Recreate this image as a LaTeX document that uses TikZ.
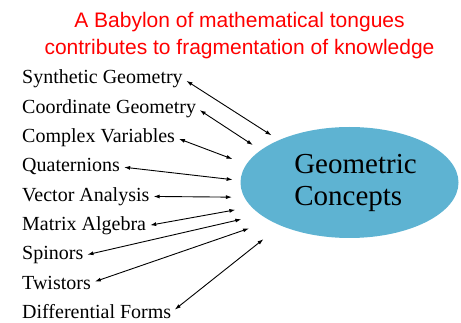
\documentclass[tikz,border=0pt]{standalone}
\usepackage{fontspec}
\setmainfont{Liberation Serif}
\newfontfamily\titlefont{Liberation Sans}
\usepackage{tikz}
\usetikzlibrary{arrows.meta, shapes.geometric}
\definecolor{conceptblue}{RGB}{94,179,210}
\definecolor{titlered}{RGB}{255,0,0}

\begin{document}
\begin{tikzpicture}[
  x=1pt, y=-1pt,
  tongue/.style={anchor=base west, inner sep=1pt,
                 font=\fontsize{20}{23}\selectfont},
  arr/.style={{Latex[length=6pt,width=4pt]}-{Latex[length=6pt,width=4pt]},
              line width=0.9pt, shorten <=3pt}
]
\useasboundingbox (0,0) rectangle (461,323);
\node[align=center, anchor=north, inner sep=0pt, text=titlered,
      font=\titlefont\fontsize{21}{27}\selectfont] (title) at (239.5,12)
  {A Babylon of mathematical tongues\\contributes to fragmentation of knowledge};
\node[ellipse, fill=conceptblue, minimum width=218pt, minimum height=111pt,
      inner sep=0pt, outer sep=0pt, align=left,
      font=\fontsize{29}{32}\selectfont] (gc) at (349.5,182.5)
  {\hspace*{12pt}Geometric\\\hspace*{12pt}Concepts};
\node[tongue] (syn) at (21,84) {Synthetic Geometry};
\node[tongue] (coo) at (21,113.3) {Coordinate Geometry};
\node[tongue] (cplx) at (21,142.6) {Complex Variables};
\node[tongue] (quat) at (21,171.9) {Quaternions};
\node[tongue] (vec) at (21,201.2) {Vector Analysis};
\node[tongue] (mat) at (21,230.5) {Matrix Algebra};
\node[tongue] (spin) at (21,259.8) {Spinors};
\node[tongue] (twist) at (21,289.1) {Twistors};
\node[tongue] (diff) at (21,318.4) {Differential Forms};
\draw[arr, shorten >=9pt] (syn.east) -- (gc.149.5);
\draw[arr, shorten >=9.5pt] (coo.east) -- (gc.160.8);
\draw[arr, shorten >=15pt] (cplx.east) -- (gc.170.7);
\draw[arr, shorten >=8pt] (quat.east) -- (gc.179.7);
\draw[arr, shorten >=12.5pt] (vec.east) -- (gc.188.5);
\draw[arr, shorten >=16.5pt] (mat.east) -- (gc.194.6);
\draw[arr, shorten >=20pt] (spin.east) -- (gc.200.9);
\draw[arr, shorten >=23pt] (twist.east) -- (gc.206.1);
\draw[arr, shorten >=22pt] (diff.east) -- (gc.212.8);
\end{tikzpicture}
\end{document}
